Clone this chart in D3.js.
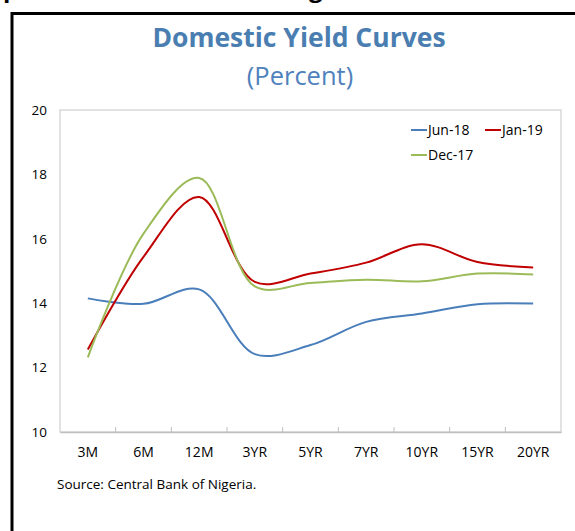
<!DOCTYPE html>
<html><head><meta charset="utf-8">
<script src="https://cdn.jsdelivr.net/npm/d3@7"></script>
<style>body{margin:0;background:#fff}svg{display:block}</style>
</head><body><svg id="c" width="575" height="531"></svg>
<script>
const categories = ["3M","6M","12M","3YR","5YR","7YR","10YR","15YR","20YR"];
const jun18 = [14.15,13.98,14.43,12.42,12.70,13.42,13.68,13.97,13.99];
const jan19 = [12.56,15.44,17.30,14.66,14.92,15.26,15.83,15.28,15.11];
const dec17 = [12.32,16.16,17.89,14.52,14.63,14.73,14.68,14.92,14.89];
const yTicks = [10,12,14,16,18,20];
const seriesNames = ["Jun-18","Jan-19","Dec-17"];
const seriesColors = ["#4a7ebb","#c00000","#9bbb59"];
const titleText = "Domestic Yield Curves";
const subtitleText = "(Percent)";
const sourceText = "Source: Central Bank of Nigeria.";

const svg = d3.select("#c");
const font = "'Open Sans', 'Noto Sans', sans-serif";
const L = 60, R = 561, T = 110, B = 432;

// outer frame
svg.append("line").attr("x1",12).attr("x2",575).attr("y1",13.5).attr("y2",13.5).attr("stroke","#000").attr("stroke-width",3);
svg.append("line").attr("x1",12).attr("x2",12).attr("y1",12).attr("y2",531).attr("stroke","#000").attr("stroke-width",3);
// cut heading descenders above frame
svg.append("text").attr("x",3).attr("y",-3).attr("font-family",font).attr("font-weight","bold").attr("font-size",24).text("p");
svg.append("text").attr("x",309).attr("y",-3).attr("font-family",font).attr("font-weight","bold").attr("font-size",24).text("g");

svg.append("text").attr("x",299).attr("y",47).attr("text-anchor","middle").attr("font-family",font)
  .attr("font-weight","bold").attr("font-size",26.5).attr("fill","#4a7eb1").text(titleText);
svg.append("text").attr("x",300).attr("y",85).attr("text-anchor","middle").attr("font-family",font)
  .attr("font-size",25.5).attr("fill","#4f81bd").text(subtitleText);

const x = d3.scaleBand().domain(categories).range([L,R]).padding(0);
const y = d3.scaleLinear().domain([10,20]).range([B,T]);

// plot border
svg.append("rect").attr("x",L).attr("y",T).attr("width",R-L).attr("height",B-T)
  .attr("fill","none").attr("stroke","#d9d9d9").attr("stroke-width",1.5);

// y axis labels
const yAxis = d3.axisLeft(y).tickValues(yTicks).tickSize(0).tickPadding(13);
const ya = svg.append("g").attr("transform",`translate(${L},0)`).call(yAxis);
ya.select(".domain").remove();
ya.selectAll("text").attr("font-family",font).attr("font-size",13.5).attr("fill","#000");

// x axis
const xAxis = d3.axisBottom(x).tickSize(0).tickPadding(15);
const xa = svg.append("g").attr("transform",`translate(0,${B})`).call(xAxis);
xa.select(".domain").attr("stroke","#bfbfbf").attr("stroke-width",1.5);
xa.selectAll("text").attr("font-family",font).attr("font-size",14).attr("fill","#000");
// boundary tick marks (upward)
svg.append("g").selectAll("line").data(categories.slice(1)).join("line")
  .attr("x1",d=>x(d)).attr("x2",d=>x(d)).attr("y1",B).attr("y2",B-5)
  .attr("stroke","#bfbfbf").attr("stroke-width",1);

const line = d3.line().x((d,i)=>x(categories[i])+x.bandwidth()/2).y(d=>y(d)).curve(d3.curveCatmullRom.alpha(0.5));
const data = [jun18,jan19,dec17];
svg.append("g").selectAll("path").data(data).join("path")
  .attr("d",line).attr("fill","none").attr("stroke",(d,i)=>seriesColors[i]).attr("stroke-width",2);

// legend
const legPos = [[411,130],[485,130],[411,155]];
seriesNames.forEach((n,i)=>{
  const [lx,ly] = legPos[i];
  svg.append("line").attr("x1",lx).attr("x2",lx+16).attr("y1",ly).attr("y2",ly).attr("stroke",seriesColors[i]).attr("stroke-width",2);
  svg.append("text").attr("x",lx+17).attr("y",ly+5).attr("font-family",font).attr("font-size",14).attr("fill","#000").text(n);
});

svg.append("text").attr("x",57).attr("y",489).attr("font-family",font).attr("font-size",13.5).attr("fill","#000").text(sourceText);
</script></body></html>
